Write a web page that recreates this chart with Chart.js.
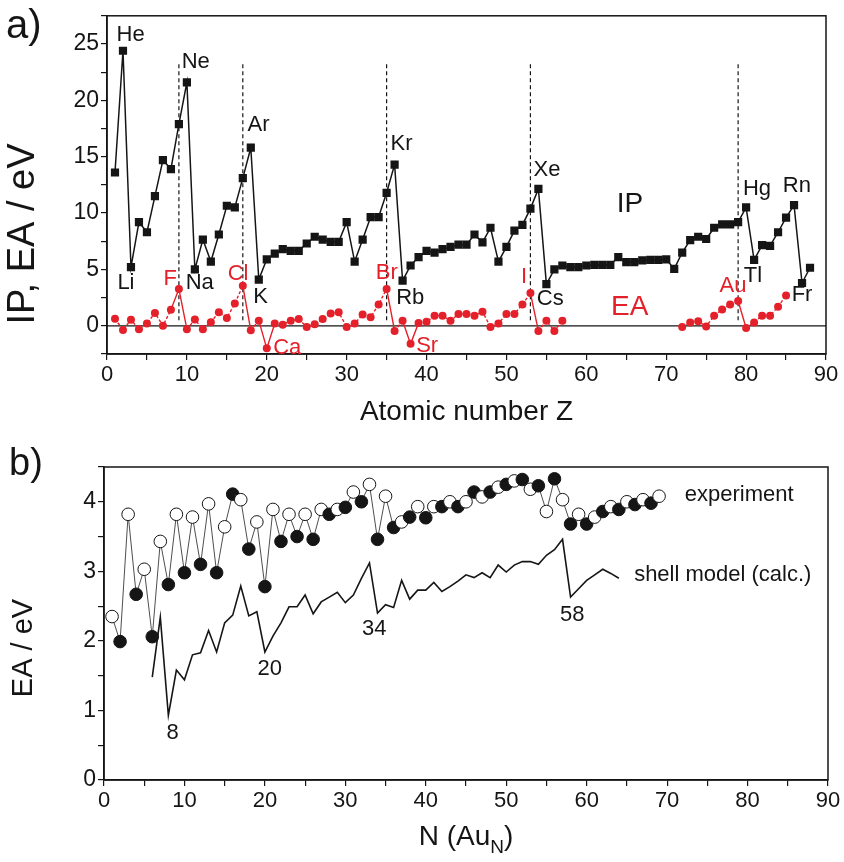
<!DOCTYPE html>
<html>
<head>
<meta charset="utf-8">
<script src="https://cdn.jsdelivr.net/npm/chart.js@4.4.1/dist/chart.umd.min.js"></script>
<style>
  html, body { margin: 0; padding: 0; background: #fff; }
  #boxA { position: absolute; left: 0; top: 0; }
  #boxB { position: absolute; left: 0; top: 440px; }
</style>
</head>
<body>
<div id="boxA"><canvas id="chartA" width="844" height="440"></canvas></div>
<div id="boxB"><canvas id="chartB" width="844" height="422"></canvas></div>
<script>
// ---- panel a: IP and EA of the elements vs atomic number ----
var ipZ = [1, 2, 3, 4, 5, 6, 7, 8, 9, 10, 11, 12, 13, 14, 15, 16, 17, 18, 19, 20,
  21, 22, 23, 24, 25, 26, 27, 28, 29, 30, 31, 32, 33, 34, 35, 36, 37, 38, 39, 40,
  41, 42, 43, 44, 45, 46, 47, 48, 49, 50, 51, 52, 53, 54, 55, 56, 57, 58, 59, 60,
  61, 62, 63, 64, 65, 66, 67, 68, 69, 70, 71, 72, 73, 74, 75, 76, 77, 78, 79, 80,
  81, 82, 83, 84, 85, 86, 87, 88];
var ipVal = [13.6, 24.4, 5.2, 9.2, 8.3, 11.5, 14.7, 13.9, 17.9, 21.6, 5.0, 7.65, 5.7, 8.1, 10.65, 10.5, 13.1, 15.8, 4.1, 5.9,
  6.4, 6.8, 6.65, 6.65, 7.3, 7.9, 7.65, 7.45, 7.45, 9.2, 5.7, 7.65, 9.65, 9.65, 11.8, 14.3, 4.0, 5.35, 6.1, 6.65,
  6.5, 6.8, 7.0, 7.2, 7.2, 8.1, 7.4, 8.7, 5.7, 7.0, 8.45, 8.95, 10.4, 12.15, 3.7, 5.0, 5.35, 5.2, 5.2, 5.35,
  5.4, 5.4, 5.4, 6.1, 5.65, 5.65, 5.8, 5.85, 5.85, 5.9, 5.05, 6.5, 7.6, 7.9, 7.7, 8.7, 9.0, 9.0, 9.2, 10.5,
  5.85, 7.15, 7.1, 8.3, 9.6, 10.7, 3.8, 5.15];

var eaZ = [1, 2, 3, 4, 5, 6, 7, 8, 9, 10, 11, 12, 13, 14, 15, 16, 17, 18, 19, 20,
  21, 22, 23, 24, 25, 26, 27, 28, 29, 30, 31, 32, 33, 34, 35, 36, 37, 38, 39, 40,
  41, 42, 43, 44, 45, 46, 47, 48, 49, 50, 51, 52, 53, 54, 55, 56, 57,
  72, 73, 74, 75, 76, 77, 78, 79, 80, 81, 82, 83, 84, 85];
var eaVal = [0.63, -0.36, 0.54, -0.3, 0.2, 1.14, 0.0, 1.43, 3.27, -0.3, 0.55, -0.3, 0.32, 1.2, 0.7, 1.98, 3.55, -0.4, 0.46, -2.0,
  0.2, 0.1, 0.46, 0.6, -0.1, 0.15, 0.6, 1.1, 1.2, -0.1, 0.2, 1.0, 0.75, 1.9, 3.27, -0.45, 0.45, -1.6, 0.25, 0.35,
  0.9, 0.9, 0.45, 1.05, 1.05, 0.9, 1.25, -0.1, 0.2, 1.05, 1.05, 1.9, 2.9, -0.45, 0.45, -0.45, 0.45,
  -0.1, 0.3, 0.4, -0.05, 0.9, 1.45, 1.9, 2.2, -0.2, 0.3, 0.9, 0.9, 1.7, 2.7];

// dashed markers at F, Cl, Br, I, Au
var markZ = [9, 17, 35, 53, 79];
var markTop = 23.2;
var markBottom = 0.5;

var xTicksA = { min: 0, max: 90, step: 5 };
var yTicksA = { min: -2.5, max: 27.5, step: 2.5 };

// ---- panel b: EA of Au_N clusters ----
var expN = [1, 2, 3, 4, 5, 6, 7, 8, 9, 10, 11, 12, 13, 14, 15, 16, 17, 18, 19, 20,
  21, 22, 23, 24, 25, 26, 27, 28, 29, 30, 31, 32, 33, 34, 35, 36, 37, 38, 39, 40,
  41, 42, 43, 44, 45, 46, 47, 48, 49, 50, 51, 52, 53, 54, 55, 56, 57, 58, 59, 60,
  61, 62, 63, 64, 65, 66, 67, 68, 69];
var expEA = [2.35, 1.99, 3.82, 2.67, 3.03, 2.06, 3.43, 2.81, 3.82, 2.98, 3.78, 3.1, 3.97, 2.98, 3.64, 4.11, 4.03, 3.32, 3.71, 2.78,
  3.89, 3.43, 3.82, 3.5, 3.82, 3.46, 3.89, 3.82, 3.89, 3.92, 4.14, 4.0, 4.25, 3.46, 4.08, 3.63, 3.71, 3.78, 3.93, 3.77,
  3.93, 3.93, 4.0, 3.93, 4.0, 4.14, 4.07, 4.14, 4.21, 4.25, 4.3, 4.32, 4.18, 4.23, 3.86, 4.33, 4.03, 3.68, 3.82, 3.68,
  3.78, 3.86, 3.93, 3.89, 4.0, 3.96, 4.03, 3.98, 4.08];

var calcN = [6, 7, 8, 9, 10, 11, 12, 13, 14, 15, 16, 17, 18, 19, 20,
  21, 22, 23, 24, 25, 26, 27, 28, 29, 30, 31, 32, 33, 34, 35, 36, 37, 38, 39, 40,
  41, 42, 43, 44, 45, 46, 47, 48, 49, 50, 51, 52, 53, 54, 55, 56, 57, 58, 59, 60,
  61, 62, 63, 64];
var calcEA = [1.48, 2.34, 0.93, 1.58, 1.44, 1.8, 1.83, 2.15, 1.84, 2.26, 2.37, 2.79, 2.36, 2.42, 1.84,
  2.07, 2.26, 2.49, 2.49, 2.66, 2.39, 2.56, 2.63, 2.7, 2.55, 2.66, 2.9, 3.12, 2.4, 2.52, 2.48, 2.87, 2.6, 2.73, 2.73,
  2.84, 2.71, 2.78, 2.86, 2.95, 2.91, 2.98, 2.91, 3.09, 2.99, 3.09, 3.14, 3.14, 3.1, 3.23, 3.31, 3.46, 2.63, 2.75, 2.87,
  2.95, 3.03, 2.97, 2.9];

var xTicksB = { min: 0, max: 90, step: 5 };
var yTicksB = { min: 0, max: 4.5, step: 0.5 };

var RED = '#e4202a';
var INK = '#151515';
var FACE = '"Liberation Sans", Arial, sans-serif';
function font(size) { return size + 'px ' + FACE; }

function points(xs, ys) {
  return xs.map(function (x, i) { return { x: x, y: ys[i] }; });
}
// break the line where Z jumps (no data for the lanthanides)
function withGaps(xs, ys) {
  var out = [];
  for (var i = 0; i < xs.length; i++) {
    if (i > 0 && xs[i] - xs[i - 1] > 1) out.push({ x: (xs[i] + xs[i - 1]) / 2, y: null });
    out.push({ x: xs[i], y: ys[i] });
  }
  return out;
}

function axis(t, every, size, fitSize, isY) {
  return {
    type: 'linear',
    min: t.min, max: t.max,
    border: { display: true, color: INK, width: 1.5 },
    grid: { drawOnChartArea: false, drawTicks: true, tickLength: 6, color: INK, lineWidth: 1.2 },
    ticks: {
      stepSize: t.step, autoSkip: false, maxRotation: 0, color: INK, padding: 2,
      font: { family: FACE, size: size },
      callback: function (v) {
        var r = Math.round(v * 1000) / 1000;
        return Math.abs(r / every - Math.round(r / every)) < 1e-6 ? String(r) : '';
      }
    },
    afterFit: function (scale) {
      if (isY) scale.width = fitSize; else scale.height = fitSize;
    }
  };
}

var framePlugin = {
  id: 'frame',
  afterDraw: function (chart) {
    var a = chart.chartArea, ctx = chart.ctx;
    ctx.save();
    ctx.strokeStyle = INK;
    ctx.lineWidth = 1.5;
    ctx.strokeRect(a.left, a.top, a.right - a.left, a.bottom - a.top);
    ctx.restore();
  }
};

// labels anchored in data units
function notesPlugin(notes, extra) {
  return {
    id: 'notes',
    afterDraw: function (chart) {
      var ctx = chart.ctx, sx = chart.scales.x, sy = chart.scales.y;
      ctx.save();
      ctx.textBaseline = 'middle';
      notes.forEach(function (n) {
        ctx.font = font(n.size || 22);
        ctx.fillStyle = n.color || INK;
        ctx.textAlign = n.align || 'left';
        ctx.fillText(n.text, sx.getPixelForValue(n.x), sy.getPixelForValue(n.y));
      });
      extra(ctx, chart.chartArea);
      ctx.restore();
    }
  };
}

function yTitle(ctx, text, cx, cy, size) {
  ctx.save();
  ctx.translate(cx, cy);
  ctx.rotate(-Math.PI / 2);
  ctx.font = font(size);
  ctx.fillStyle = INK;
  ctx.textAlign = 'center';
  ctx.textBaseline = 'middle';
  ctx.fillText(text, 0, 0);
  ctx.restore();
}

var notesA = [
  { text: 'He', x: 1.2, y: 25.8 },
  { text: 'Ne', x: 9.35, y: 23.4 },
  { text: 'Ar', x: 17.6, y: 17.8 },
  { text: 'Kr', x: 35.5, y: 16.1 },
  { text: 'Xe', x: 53.4, y: 13.8 },
  { text: 'Hg', x: 79.6, y: 12.1 },
  { text: 'Rn', x: 84.6, y: 12.4 },
  { text: 'Li', x: 1.3, y: 3.8 },
  { text: 'Na', x: 9.85, y: 3.8 },
  { text: 'K', x: 18.3, y: 2.6 },
  { text: 'Rb', x: 36.2, y: 2.5 },
  { text: 'Cs', x: 53.8, y: 2.35 },
  { text: 'Tl', x: 79.7, y: 4.4 },
  { text: 'Fr', x: 85.7, y: 2.7 },
  { text: 'F', x: 8.75, y: 4.2, color: RED, align: 'right' },
  { text: 'Cl', x: 17.7, y: 4.6, color: RED, align: 'right' },
  { text: 'Br', x: 36.4, y: 4.7, color: RED, align: 'right' },
  { text: 'I', x: 52.6, y: 4.35, color: RED, align: 'right' },
  { text: 'Au', x: 80.05, y: 3.5, color: RED, align: 'right' },
  { text: 'Ca', x: 20.8, y: -1.95, color: RED },
  { text: 'Sr', x: 38.7, y: -1.8, color: RED },
  { text: 'IP', x: 63.8, y: 10.8, size: 28 },
  { text: 'EA', x: 63.1, y: 1.63, size: 28, color: RED }
];

var notesB = [
  { text: '8', x: 8.54, y: 0.67, align: 'center' },
  { text: '20', x: 20.6, y: 1.59, align: 'center' },
  { text: '34', x: 33.6, y: 2.17, align: 'center' },
  { text: '58', x: 58.2, y: 2.37, align: 'center' },
  { text: 'experiment', x: 72.2, y: 4.1 },
  { text: 'shell model (calc.)', x: 65.9, y: 2.95 }
];

var markSets = markZ.map(function (z) {
  return {
    data: [{ x: z, y: markTop }, { x: z, y: markBottom }],
    showLine: true, borderColor: INK, borderWidth: 1.2, borderDash: [4, 3],
    pointRadius: 0
  };
});

new Chart(document.getElementById('chartA'), {
  type: 'scatter',
  data: {
    datasets: [
      {
        label: 'IP',
        data: points(ipZ, ipVal),
        showLine: true, borderColor: INK, borderWidth: 1.5,
        pointStyle: 'rect', pointRadius: 5.8, pointBackgroundColor: INK, pointBorderWidth: 0
      },
      {
        label: 'EA',
        data: withGaps(eaZ, eaVal),
        showLine: true, spanGaps: false, borderColor: RED, borderWidth: 1.4,
        segment: {
          borderDash: function (c) {
            return Math.abs(c.p1.parsed.y - c.p0.parsed.y) > 1.8 ? [] : [3, 2];
          }
        },
        pointStyle: 'circle', pointRadius: 4, pointBackgroundColor: RED, pointBorderWidth: 0
      }
    ].concat(markSets).concat([
      {
        data: [{ x: 0, y: 0 }, { x: 90, y: 0 }],
        showLine: true, borderColor: INK, borderWidth: 1.3, pointRadius: 0
      }
    ])
  },
  options: {
    responsive: false,
    animation: false,
    layout: { padding: { left: 0, top: 4, right: 18, bottom: 0 } },
    plugins: { legend: { display: false }, tooltip: { enabled: false } },
    scales: {
      x: axis(xTicksA, 10, 22, 86, false),
      y: axis(yTicksA, 5, 23, 107, true)
    }
  },
  plugins: [framePlugin, notesPlugin(notesA, function (ctx, area) {
    ctx.fillStyle = INK;
    ctx.textAlign = 'left';
    ctx.font = font(40);
    ctx.fillText('a)', 6, 27);
    ctx.textAlign = 'center';
    ctx.font = font(28);
    ctx.fillText('Atomic number Z', (area.left + area.right) / 2, area.bottom + 58);
    yTitle(ctx, 'IP, EA / eV', 24, 234, 38);
  })]
});

new Chart(document.getElementById('chartB'), {
  type: 'scatter',
  data: {
    datasets: [
      {
        label: 'experiment',
        data: points(expN, expEA),
        showLine: true, borderColor: '#3a3a3a', borderWidth: 0.9,
        pointRadius: 6.3, pointBorderColor: INK, pointBorderWidth: 1,
        pointBackgroundColor: function (c) {
          var n = expN[c.dataIndex];
          return n % 2 === 1 ? '#ffffff' : INK;
        }
      },
      {
        label: 'shell model (calc.)',
        data: points(calcN, calcEA),
        showLine: true, borderColor: INK, borderWidth: 1.6, pointRadius: 0
      }
    ]
  },
  options: {
    responsive: false,
    animation: false,
    layout: { padding: { left: 0, top: 27, right: 16, bottom: 0 } },
    plugins: { legend: { display: false }, tooltip: { enabled: false } },
    scales: {
      x: axis(xTicksB, 10, 22, 82, false),
      y: axis(yTicksB, 1, 23, 104, true)
    }
  },
  plugins: [framePlugin, notesPlugin(notesB, function (ctx, area) {
    ctx.fillStyle = INK;
    ctx.textAlign = 'left';
    ctx.font = font(38);
    ctx.fillText('b)', 9, 25);
    // x title with subscript
    var y = area.bottom + 57;
    ctx.font = font(28);
    var w1 = ctx.measureText('N (Au').width;
    var w3 = ctx.measureText(')').width;
    ctx.font = font(19);
    var w2 = ctx.measureText('N').width;
    var x0 = (area.left + area.right) / 2 - (w1 + w2 + w3) / 2;
    ctx.font = font(28);
    ctx.fillText('N (Au', x0, y);
    ctx.fillText(')', x0 + w1 + w2, y);
    ctx.font = font(19);
    ctx.fillText('N', x0 + w1, y + 11);
    yTitle(ctx, 'EA / eV', 24, 208, 29);
  })]
});
</script>
</body>
</html>
